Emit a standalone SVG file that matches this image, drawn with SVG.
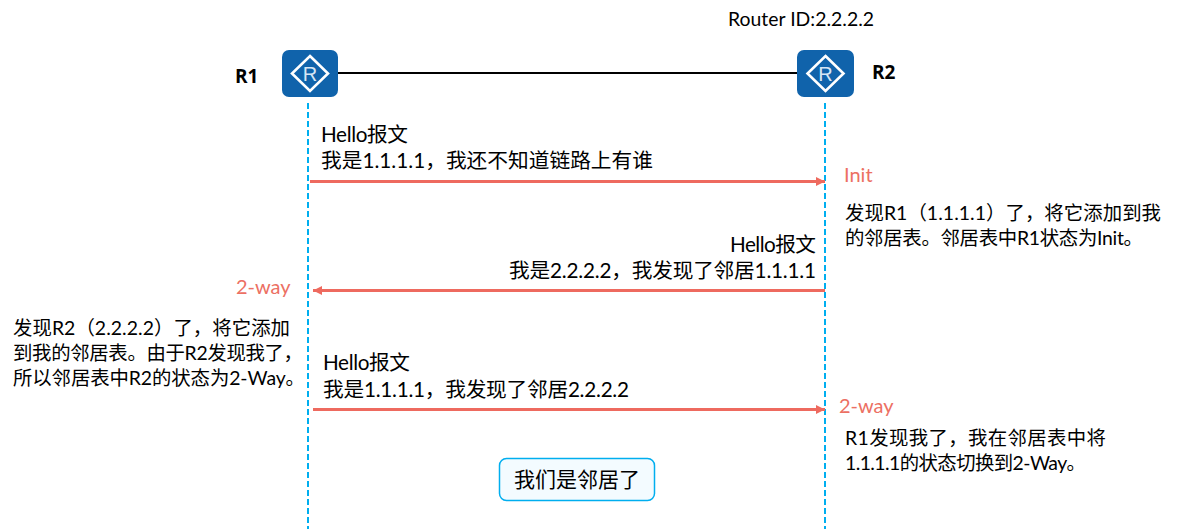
<svg xmlns="http://www.w3.org/2000/svg" width="1188" height="529" viewBox="0 0 1188 529">
<style>
text{font-family:"Lato","Noto Sans CJK SC",sans-serif;font-size:20.7px;fill:#000}
.s{font-size:19.4px}
.b{font-family:"Open Sans","Noto Sans CJK SC",sans-serif;font-size:19px;font-weight:700}
.st{fill:#ec7063;font-size:20px}
.life{stroke:#00aeef;stroke-width:2;stroke-dasharray:6 3;fill:none}
.msg{stroke:#ee6a5f;stroke-width:3;fill:none}
.rb{fill:#1063ab}
.ri{fill:none;stroke:#fff;stroke-width:2.6}
.rt{font-family:"Liberation Sans",sans-serif;font-size:20px;fill:#d7e6f4;text-anchor:middle}
</style>
<defs>
<marker id="a" markerUnits="userSpaceOnUse" markerWidth="10" markerHeight="9" refX="9" refY="4.5" orient="auto-start-reverse"><path d="M0 0L9 4.5L0 9z" fill="#ee6a5f"/></marker>
</defs>
<g id="connectors">
<line x1="338" y1="73" x2="797" y2="73" stroke="#000" stroke-width="2"/>
<line class="life" x1="308" y1="103" x2="308" y2="529"/>
<line class="life" x1="825" y1="103" x2="825" y2="529"/>
<line class="msg" x1="310" y1="181.500" x2="825" y2="181.500" marker-end="url(#a)"/>
<line class="msg" x1="825" y1="290.500" x2="313" y2="290.500" marker-end="url(#a)"/>
<line class="msg" x1="313" y1="409.500" x2="825" y2="409.500" marker-end="url(#a)"/>
</g>
<g id="R1">
<rect class="rb" x="282" y="50" width="56" height="47" rx="7"/>
<path class="ri" d="M310 56L328 73.500L310 91L292 73.500z"/>
<text class="rt" x="310" y="81">R</text>
<text class="b" x="235" y="83">R1</text>
</g>
<g id="R2">
<rect class="rb" x="797" y="50" width="57" height="47" rx="7"/>
<path class="ri" d="M825.500 56L843.500 73.500L825.500 91L807.500 73.500z"/>
<text class="rt" x="825.500" y="81">R</text>
<text class="b" x="872" y="79">R2</text>
<text x="728" y="26" class="s" textLength="146">Router ID:2.2.2.2</text>
</g>
<g id="msg1">
<text x="321" y="142" textLength="87">Hello报文</text>
<text x="321" y="168" textLength="332">我是1.1.1.1，我还不知道链路上有谁</text>
</g>
<g id="msg2">
<text x="730" y="252" textLength="86">Hello报文</text>
<text x="509" y="278" textLength="307">我是2.2.2.2，我发现了邻居1.1.1.1</text>
</g>
<g id="msg3">
<text x="323" y="370" textLength="87">Hello报文</text>
<text x="323" y="397" textLength="306">我是1.1.1.1，我发现了邻居2.2.2.2</text>
</g>
<g id="states">
<text class="st" x="844" y="182">Init</text>
<text class="st" x="236" y="294">2-way</text>
<text class="st" x="839" y="413">2-way</text>
</g>
<g id="note-r2">
<text class="s" x="845" y="220" textLength="316">发现R1（1.1.1.1）了，将它添加到我</text>
<text class="s" x="845" y="245" textLength="298">的邻居表。邻居表中R1状态为Init。</text>
</g>
<g id="note-r1">
<text class="s" x="13" y="335" textLength="277">发现R2（2.2.2.2）了，将它添加</text>
<text class="s" x="13" y="360" textLength="290">到我的邻居表。由于R2发现我了，</text>
<text class="s" x="13" y="385" textLength="292">所以邻居表中R2的状态为2-Way。</text>
</g>
<g id="note-r2b">
<text class="s" x="845" y="445" textLength="261">R1发现我了，我在邻居表中将</text>
<text class="s" x="845" y="470" textLength="241">1.1.1.1的状态切换到2-Way。</text>
</g>
<g id="neighbor">
<rect x="499.500" y="458.500" width="155" height="42" rx="7" fill="#f3fbff" stroke="#00aeef" stroke-width="1.500"/>
<text x="514" y="487" textLength="126" style="font-size:21px">我们是邻居了</text>
</g>
</svg>
